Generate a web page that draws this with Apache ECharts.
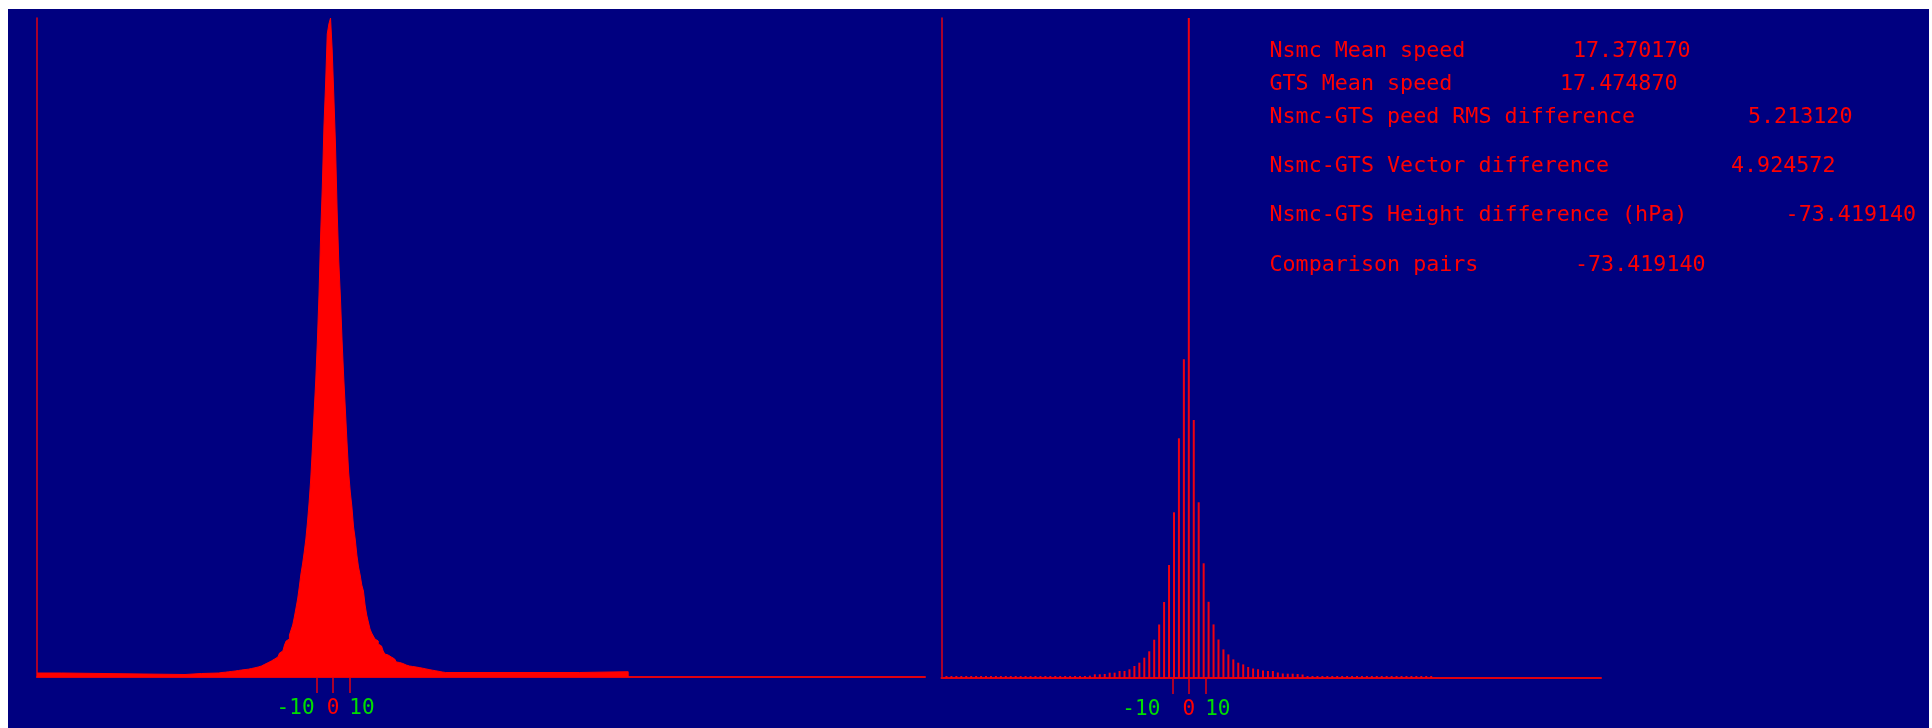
<!DOCTYPE html>
<html>
<head>
<meta charset="utf-8">
<script src="https://cdn.jsdelivr.net/npm/echarts@6/dist/echarts.min.js"></script>
<style>
  html, body { margin: 0; padding: 0; background: #ffffff; }
  #chart { position: absolute; left: 8px; top: 9px; width: 1921px; height: 719px; }
</style>
</head>
<body>
<div id="chart"></div>
<script>
// left panel: 1-unit bins from -69 to 69, plus flat tail segments
const leftCoreStart = -69
const leftCore = [
  4.3, 4.5, 4.6, 4.8, 5, 5.2, 5.4, 5.6, 5.8, 6,
  6.2, 6.5, 6.8, 7, 7.2, 7.4, 7.6, 7.8, 8.2, 8.5,
  8.8, 9.2, 9.6, 10, 10.5, 11, 12, 12.7, 13.5, 14.3,
  15, 16, 17, 18, 19, 20, 22, 24, 26, 28,
  32, 36, 38, 42, 47, 52, 60, 69, 78, 90,
  103, 113, 125, 138, 155, 175, 199, 230, 264, 296,
  336, 383, 443, 490, 551, 593, 643, 653, 659, 627,
  581, 533, 467, 416, 380, 337, 300, 268, 235, 205,
  185, 170, 150, 138, 122, 110, 102, 92, 86, 72,
  62, 55, 48, 44, 41, 38, 36, 33, 31, 29,
  26, 23, 22, 21, 20, 19, 18, 16, 15, 14.5,
  14, 13.5, 13, 12, 11.5, 11, 10.8, 10.5, 10.2, 10,
  9.7, 9.4, 9.1, 8.8, 8.5, 8.1, 7.7, 7.4, 7.1, 6.8,
  6.5, 6.2, 5.9, 5.6, 5.3, 5, 4.8, 4.5, 4.3
]
const leftTailLeftEdges = [-180, -165, -90, -80]
const leftTailLeftValues = [4, 2.5, 3.5, 4]
const leftTailRightEdges = [69.5, 150]
const leftTailRightValues = [4.5, 5.3]
const leftEnd = 179.5

// right panel: bars every 3 units from -147 to 147
const rightStart = -147
const rightStep = 3
const rightValues = [
  2, 2, 2, 2, 2, 2, 2, 2, 2, 2, 2, 2, 2, 2,
  2, 2, 2, 2, 2, 2, 2, 2, 2, 2, 2, 2, 2, 2,
  2, 2.3, 3.7, 3.7, 4, 5.3, 5.3, 7, 7, 8.7, 12, 15.3, 20.3, 26.7,
  38.3, 53.5, 76, 113, 165.7, 239.7, 318.7,
  660,
  258, 175.7, 114.7, 76.2, 53.6, 38.5, 28.6, 23.6, 18.6, 15.3, 13.6, 11,
  9.5, 8.8, 7.5, 7, 7, 5.5, 4.5, 4.3, 4.3, 4, 3.5,
  2, 2, 2, 2, 2, 2, 2, 2, 2, 2, 2, 2, 2,
  2, 2, 2, 2, 2, 2, 2, 2, 2, 2, 2, 2, 2
]

const tickValues = [-10, 0, 10]

const statLabels = [
  'Nsmc Mean speed',
  'GTS Mean speed',
  'Nsmc-GTS peed RMS difference',
  'Nsmc-GTS Vector difference',
  'Nsmc-GTS Height difference (hPa)',
  'Comparison pairs'
]
const statValues = ['17.370170', '17.474870', '5.213120', '4.924572', '-73.419140', '-73.419140']

const RED = '#ff0000'
const AXIS_RED = '#e00010'
const GREEN = '#00dd00'
const MONO = '"DejaVu Sans Mono", "Liberation Mono", monospace'

// build step data for the left histogram
const leftData = []
leftTailLeftEdges.forEach((x, i) => leftData.push([x, leftTailLeftValues[i]]))
leftCore.forEach((h, i) => leftData.push([leftCoreStart + i - 0.5, h]))
leftTailRightEdges.forEach((x, i) => leftData.push([x, leftTailRightValues[i]]))
leftData.push([leftEnd, 0])

const rightData = rightValues.map((h, i) => [rightStart + i * rightStep, h])

const makeXAxis = (gridIndex, min, max, negPad) => ({
  gridIndex,
  type: 'value',
  min,
  max,
  splitLine: { show: false },
  axisLine: { show: true, onZero: false, lineStyle: { color: AXIS_RED, width: 2 } },
  axisTick: { show: true, customValues: tickValues, length: 16, lineStyle: { color: AXIS_RED, width: 1.5 } },
  axisLabel: {
    show: true,
    customValues: tickValues,
    margin: 21,
    formatter: (v) => (v < 0 ? '{neg|' + v + '}' : v === 0 ? '{zero|0}' : '{pos|' + v + '}'),
    rich: {
      neg: { color: GREEN, fontFamily: MONO, fontSize: 21, padding: [0, negPad, 0, 0] },
      zero: { color: RED, fontFamily: MONO, fontSize: 21 },
      pos: { color: GREEN, fontFamily: MONO, fontSize: 21, padding: [0, 0, 0, 25] }
    }
  }
})

const makeYAxis = (gridIndex, max) => ({
  gridIndex,
  type: 'value',
  min: 0,
  max,
  splitLine: { show: false },
  axisTick: { show: false },
  axisLabel: { show: false },
  axisLine: { show: true, onZero: false, lineStyle: { color: AXIS_RED, width: 1.5 } }
})

const statTexts = []
const labelX = 1261.5
const valueX = [1565, 1552, 1740, 1723, 1777.6, 1567]
const rowY = [42.3, 75, 108, 157, 206, 256]
statLabels.forEach((t, i) => {
  statTexts.push({
    type: 'text',
    x: labelX,
    y: rowY[i],
    style: { text: t, fill: RED, font: '21.7px ' + MONO, verticalAlign: 'middle', align: 'left' }
  })
  statTexts.push({
    type: 'text',
    x: valueX[i],
    y: rowY[i],
    style: { text: statValues[i], fill: RED, font: '21.7px ' + MONO, verticalAlign: 'middle', align: 'left' }
  })
})

const chart = echarts.init(document.getElementById('chart'))
chart.setOption({
  backgroundColor: '#000080',
  animation: false,
  grid: [
    { left: 29, top: 9, width: 888, height: 659 },
    { left: 933.5, top: 9, width: 659.5, height: 660 }
  ],
  xAxis: [makeXAxis(0, -180, 360, 42), makeXAxis(1, -150, 250, 62)],
  yAxis: [makeYAxis(0, 659), makeYAxis(1, 660)],
  graphic: statTexts,
  series: [
    {
      type: 'line',
      xAxisIndex: 0,
      yAxisIndex: 0,
      step: 'end',
      symbol: 'none',
      data: leftData,
      lineStyle: { color: RED, width: 1 },
      areaStyle: { color: RED, opacity: 1 }
    },
    {
      type: 'bar',
      xAxisIndex: 1,
      yAxisIndex: 1,
      barWidth: 2,
      data: rightData,
      itemStyle: { color: '#f00010' }
    }
  ]
})
</script>
</body>
</html>
